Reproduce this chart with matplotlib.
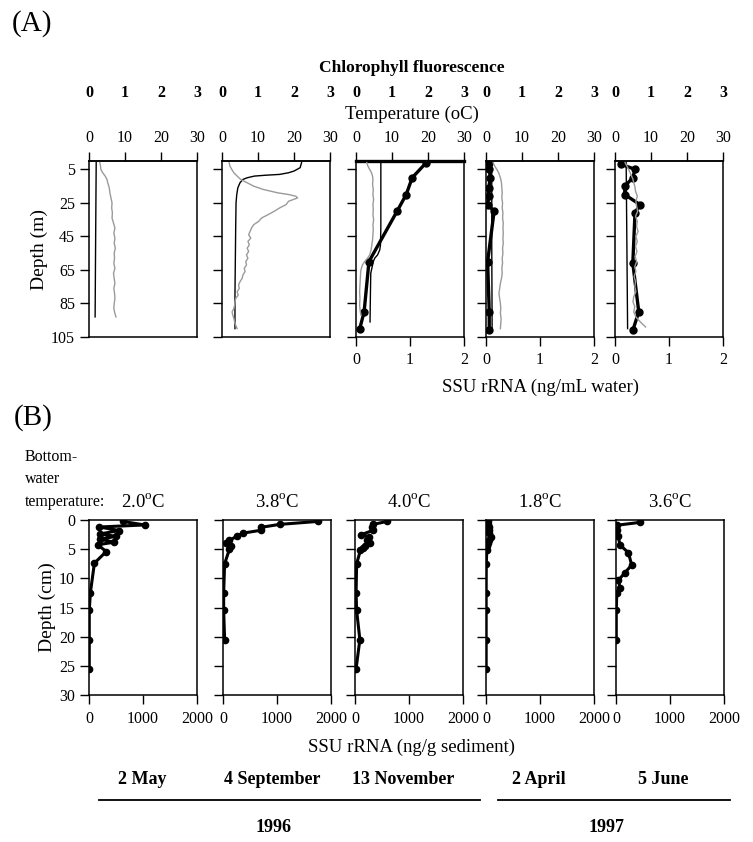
import matplotlib
matplotlib.use('Agg')
import matplotlib.pyplot as plt
from matplotlib.lines import Line2D

plt.rcParams['font.family'] = ['Liberation Serif', 'DejaVu Serif']
plt.rcParams['mathtext.fontset'] = 'custom'
plt.rcParams['mathtext.rm'] = 'Liberation Serif'
plt.rcParams['axes.linewidth'] = 1.1

W, H = 753, 842

# ---- panel A: water column, one list per sampling date ----
temp_depth = [
    [1, 30, 60, 93],
    [1, 4, 6, 7, 8, 8.5, 9, 10, 11, 13, 16, 20, 25, 40, 60, 80, 100],
    [1, 20, 40, 50, 53, 56, 58, 60, 63, 67, 80, 96],
    [1, 50, 100],
    [1, 50, 100],
]
temp_val = [
    [2.0, 1.9, 1.8, 1.7],
    [22.1, 21.7, 20.0, 18.5, 16.0, 12.0, 9.0, 7.0, 5.8, 5.0, 4.4, 4.1, 3.9, 3.8, 3.7, 3.6, 3.6],
    [6.9, 6.9, 6.9, 6.8, 6.6, 6.0, 5.2, 4.8, 4.5, 4.1, 4.0, 3.9],
    [1.6, 1.6, 1.7],
    [3.1, 3.3, 3.5],
]

chl_depth = [
    [1, 3, 5, 7, 9, 11, 13, 15, 17, 19, 21, 23, 25, 28, 31, 34, 37, 40, 43, 46, 49, 52,
     55, 58, 61, 64, 67, 70, 73, 76, 79, 82, 85, 88, 91, 93],
    [1, 3, 5, 7, 9, 11, 13, 15, 17, 19, 20, 21, 22, 23, 24, 26, 28, 30, 32, 34, 36, 38, 40,
     42, 44, 46, 48, 50, 52, 54, 56, 58, 60, 62, 64, 66, 68, 70, 72, 74, 76, 78, 80, 82,
     84, 86, 88, 90, 92, 94, 96, 98, 100],
    [1, 3, 5, 7, 9, 11, 14, 17, 20, 23, 26, 29, 32, 35, 38, 41, 44, 47, 50, 53, 56, 58,
     60, 62, 64, 66, 70, 74, 78, 82, 86, 90, 92],
    [1, 3, 5, 7, 10, 13, 16, 19, 22, 25, 28, 31, 34, 37, 40, 43, 46, 49, 52, 55, 58, 61,
     64, 67, 70, 73, 76, 79, 82, 85, 88, 91, 94, 97, 100],
    [1, 3, 5, 7, 9, 11, 13, 15, 18, 21, 24, 27, 30, 33, 36, 39, 42, 45, 48, 51, 54, 57,
     60, 63, 66, 69, 72, 75, 78, 81, 84, 87, 90, 93, 95, 97, 99],
]
chl_val = [
    [0.30, 0.32, 0.33, 0.38, 0.45, 0.50, 0.52, 0.55, 0.57, 0.58, 0.60, 0.62, 0.64, 0.63,
     0.65, 0.64, 0.68, 0.72, 0.69, 0.72, 0.70, 0.73, 0.70, 0.71, 0.69, 0.72, 0.68, 0.70,
     0.72, 0.69, 0.71, 0.72, 0.70, 0.69, 0.72, 0.75],
    [0.20, 0.22, 0.27, 0.33, 0.42, 0.52, 0.70, 0.88, 1.15, 1.55, 1.85, 2.05, 2.10, 1.98,
     1.85, 1.78, 1.60, 1.45, 1.28, 1.10, 1.02, 0.88, 0.82, 0.78, 0.74, 0.80, 0.72, 0.76,
     0.70, 0.74, 0.68, 0.72, 0.66, 0.68, 0.62, 0.64, 0.58, 0.56, 0.50, 0.46, 0.48, 0.42,
     0.45, 0.38, 0.36, 0.35, 0.33, 0.28, 0.30, 0.33, 0.35, 0.38, 0.42],
    [0.30, 0.33, 0.38, 0.43, 0.46, 0.47, 0.46, 0.48, 0.47, 0.49, 0.47, 0.48, 0.47, 0.49,
     0.47, 0.48, 0.47, 0.46, 0.44, 0.42, 0.38, 0.32, 0.24, 0.18, 0.15, 0.13, 0.12, 0.11,
     0.10, 0.11, 0.10, 0.12, 0.14],
    [0.20, 0.24, 0.30, 0.35, 0.40, 0.43, 0.44, 0.45, 0.44, 0.46, 0.45, 0.47, 0.46, 0.48,
     0.47, 0.48, 0.47, 0.48, 0.46, 0.47, 0.45, 0.46, 0.44, 0.45, 0.43, 0.40, 0.38, 0.36,
     0.38, 0.40, 0.41, 0.40, 0.42, 0.41, 0.40],
    [0.28, 0.33, 0.38, 0.42, 0.46, 0.50, 0.52, 0.55, 0.57, 0.62, 0.58, 0.60, 0.63, 0.57,
     0.62, 0.60, 0.64, 0.58, 0.62, 0.57, 0.61, 0.56, 0.60, 0.55, 0.58, 0.53, 0.57, 0.55,
     0.58, 0.52, 0.50, 0.55, 0.52, 0.58, 0.66, 0.75, 0.85],
]

# SSU rRNA in water (ng/mL), only Nov 1996, Apr and Jun 1997
ssu_w_depth = [None, None,
               [1, 10, 20, 30, 60, 90, 100],
               [1, 5, 10, 16, 21, 26, 30, 60, 90, 101],
               [2, 5, 10, 15, 20, 26, 31, 61, 90, 101]]
ssu_w_val = [None, None,
             [1.30, 1.04, 0.93, 0.76, 0.24, 0.15, 0.07],
             [0.05, 0.06, 0.08, 0.05, 0.05, 0.03, 0.15, 0.03, 0.06, 0.06],
             [0.12, 0.37, 0.33, 0.18, 0.18, 0.46, 0.37, 0.33, 0.44, 0.33]]

# ---- panel B: sediment ----
sed_depth = [
    [0.25, 0.85, 1.2, 1.8, 2.4, 2.8, 3.3, 3.8, 4.25, 5.4, 7.4, 12.5, 15.5, 20.5, 25.5],
    [0.25, 0.75, 1.25, 1.75, 2.25, 2.75, 3.5, 4.0, 4.5, 5.0, 7.5, 12.5, 15.5, 20.5],
    [0.25, 0.75, 1.25, 1.75, 2.5, 2.9, 3.4, 4.0, 4.4, 4.8, 5.2, 7.5, 12.5, 15.5, 20.5, 25.5],
    [0.25, 0.75, 1.25, 1.75, 2.25, 2.9, 3.4, 3.9, 4.5, 5.2, 7.5, 12.5, 15.5, 20.5, 25.5],
    [0.4, 0.9, 1.7, 2.8, 4.3, 5.6, 7.7, 9.0, 10.3, 11.7, 12.5, 15.5, 20.5],
]
sed_val = [
    [630, 1030, 190, 560, 200, 500, 200, 470, 160, 320, 100, 25, 5, 5, 5],
    [1750, 1050, 710, 710, 370, 260, 120, 60, 150, 120, 30, 12, 12, 30],
    [590, 340, 310, 340, 120, 250, 220, 270, 190, 150, 100, 30, 20, 30, 90, 20],
    [30, 40, 55, 50, 60, 93, 60, 40, 25, 15, 5, 3, 3, 3, 3],
    [450, 15, 12, 40, 75, 230, 290, 170, 45, 75, 15, 5, 5],
]
bottom_temps = ['2.0', '3.8', '4.0', '1.8', '3.6']
dates = ['2 May', '4 September', '13 November', '2 April', '5 June']
date_x = [142, 272, 403, 539, 663]

A_left = [89, 222, 356, 486, 615]
B_left = [89, 223, 355, 486, 616]
ax_w = 108

fig = plt.figure(figsize=(W / 100, H / 100), dpi=100)


def box(l, t, b):
    return [l / W, 1 - b / H, ax_w / W, (b - t) / H]


tick_kw = dict(direction='out', length=6.5, width=1, labelsize=11.5)

for i, l in enumerate(A_left):
    ax = fig.add_axes(box(l, 161, 337))
    ax.set_xlim(0, 2)
    ax.set_ylim(105, 0)
    ax.set_yticks([5, 25, 45, 65, 85, 105])

    axt = ax.twiny()
    axt.set_xlim(0, 30)
    axt.set_xticks([0, 10, 20, 30])
    axt.tick_params(**tick_kw)
    axt.tick_params(axis='x', pad=4, bottom=False)
    for s in ['left', 'right', 'bottom']:
        axt.spines[s].set_visible(False)

    axc = ax.twiny()
    axc.set_xlim(0, 3)
    axc.set_xticks([0, 1, 2, 3])
    axc.spines['top'].set_position(('outward', 40))
    for s in ['left', 'right', 'bottom', 'top']:
        axc.spines[s].set_visible(False)
    axc.tick_params(axis='x', length=0, pad=3, labelsize=11.5, bottom=False)
    for lab in axc.get_xticklabels():
        lab.set_fontweight('bold')

    # twiny() turns the host's bottom ticks back on, so set them after
    ax.tick_params(**tick_kw)
    ax.tick_params(axis='x', pad=4, top=False, labeltop=False)
    if i > 0:
        ax.set_yticklabels([])
    if i < 2:
        ax.set_xticks([])
        ax.xaxis.set_visible(False)
    else:
        ax.set_xticks([0, 1, 2])
    if i == 2:
        ax.spines['top'].set_linewidth(2.4)

    axc.plot(chl_val[i], chl_depth[i], color='#9a9a9a', lw=1.0)
    axt.plot(temp_val[i], temp_depth[i], color='black', lw=1.0)
    if ssu_w_val[i] is not None:
        ax.plot(ssu_w_val[i], ssu_w_depth[i], color='black', lw=2.4,
                marker='o', ms=5, zorder=5)
    if i == 0:
        ax.set_ylabel('Depth (m)', fontsize=14, labelpad=2)

for i, l in enumerate(B_left):
    ax = fig.add_axes(box(l, 520, 695))
    ax.set_xlim(0, 2000)
    ax.set_ylim(30, 0)
    ax.set_xticks([0, 1000, 2000])
    ax.set_yticks([0, 5, 10, 15, 20, 25, 30])
    ax.tick_params(**tick_kw)
    ax.tick_params(axis='x', pad=5)
    if i > 0:
        ax.set_yticklabels([])
    else:
        ax.set_ylabel('Depth (cm)', fontsize=14, labelpad=2)
    ax.plot(sed_val[i], sed_depth[i], color='black', lw=2.2, marker='o', ms=4.5)
    fig.text((l + ax_w / 2) / W, 1 - 502 / H, bottom_temps[i] + r'$^{\mathrm{o}}$C',
             ha='center', va='center', fontsize=13.5)

# labels and headers
fig.text(12 / W, 1 - 24 / H, '(A)', fontsize=21, va='center')
fig.text(412 / W, 1 - 68 / H, 'Chlorophyll fluorescence', fontsize=12.5,
         fontweight='bold', ha='center', va='center')
fig.text(412 / W, 1 - 114 / H, 'Temperature (oC)', fontsize=13.5, ha='center', va='center')
fig.text(540 / W, 1 - 387 / H, 'SSU rRNA (ng/mL water)', fontsize=13.5,
         ha='center', va='center')
fig.text(14 / W, 1 - 418 / H, '(B)', fontsize=21, va='center')
for k, s in enumerate(['Bottom-', 'water', 'temperature:']):
    fig.text(25 / W, 1 - (457 + 22.5 * k) / H, s, fontsize=11.5, va='center')
fig.text(412 / W, 1 - 747 / H, 'SSU rRNA (ng/g sediment)', fontsize=13.5,
         ha='center', va='center')

for d, x in zip(dates, date_x):
    fig.text(x / W, 1 - 779 / H, d, fontsize=13, fontweight='bold',
             ha='center', va='center')
fig.add_artist(Line2D([99 / W, 480 / W], [1 - 800 / H] * 2, color='black', lw=1.3))
fig.add_artist(Line2D([498 / W, 730 / W], [1 - 800 / H] * 2, color='black', lw=1.3))
fig.text(274 / W, 1 - 827 / H, '1996', fontsize=13, fontweight='bold',
         ha='center', va='center')
fig.text(607 / W, 1 - 827 / H, '1997', fontsize=13, fontweight='bold',
         ha='center', va='center')

fig.savefig('out.png', dpi=100)
